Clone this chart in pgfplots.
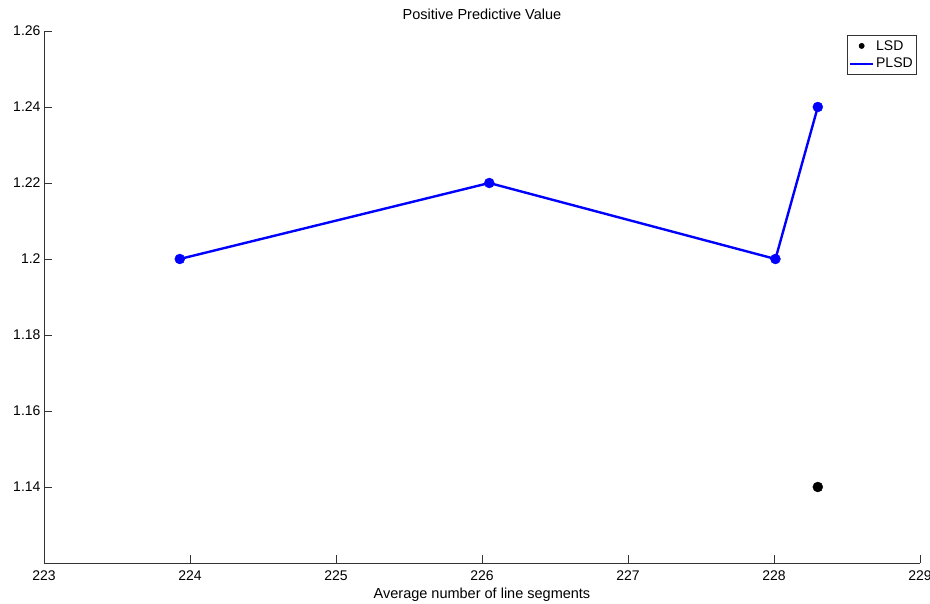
\documentclass[border=0pt]{standalone}
\usepackage{pgfplots}
\pgfplotsset{compat=1.18}
\usepackage{fontspec}
\setmainfont{Liberation Sans}
\begin{document}
\begin{tikzpicture}
\useasboundingbox (-44pt,-41pt) rectangle (886pt,563pt);
\begin{axis}[
  scale only axis,
  width=876pt, height=532pt,
  xmin=223, xmax=229, ymin=1.12, ymax=1.26,
  xtick={223,224,...,229},
  ytick={1.14,1.16,1.18,1.2,1.22,1.24,1.26},
  axis x line*=bottom, axis y line*=left,
  axis line style={draw=black!80, line width=0.8pt},
  tick align=inside,
  major tick length=8pt,
  tick style={draw=black!80, line width=0.8pt},
  /pgf/number format/assume math mode=true,
  ticklabel style={font=\fontsize{14}{16}\selectfont},
  yticklabel style={/pgf/number format/fixed, /pgf/number format/precision=2},
  xticklabel style={/pgf/number format/fixed, /pgf/number format/1000 sep={}, yshift=-4pt},
  title={Positive Predictive Value},
  title style={font=\fontsize{14.5}{16}\selectfont, yshift=2pt},
  xlabel={Average number of line segments},
  xlabel style={font=\fontsize{14.5}{16}\selectfont, yshift=-1pt},
  legend style={at={(rel axis cs:0.9966,0.9925)}, anchor=north east,
    font=\fontsize{14}{16}\selectfont, draw=black!80, line width=0.6pt,
    inner xsep=2pt, inner ysep=3pt, row sep=2.5pt},
  legend cell align=left,
  clip=false,
]
\addplot[only marks, mark=*, mark size=5pt, color=black,
  legend image code/.code={\fill[black] (0.4cm,0cm) circle (2.6pt);}] coordinates {(228.3,1.14)};
\addlegendentry{LSD}
\addplot[color=blue, line width=2.4pt, mark=none,
  legend image code/.code={\draw[blue, line width=2.2pt] (0cm,0cm) -- (0.8cm,0cm);}] coordinates {
(223.93,1.20) (226.05,1.22) (228.01,1.20) (228.3,1.24)};
\addlegendentry{PLSD}
\addplot[only marks, mark=*, mark size=5pt, color=blue, forget plot] coordinates {
(223.93,1.20) (226.05,1.22) (228.01,1.20) (228.3,1.24)};
\end{axis}
\end{tikzpicture}
\end{document}
